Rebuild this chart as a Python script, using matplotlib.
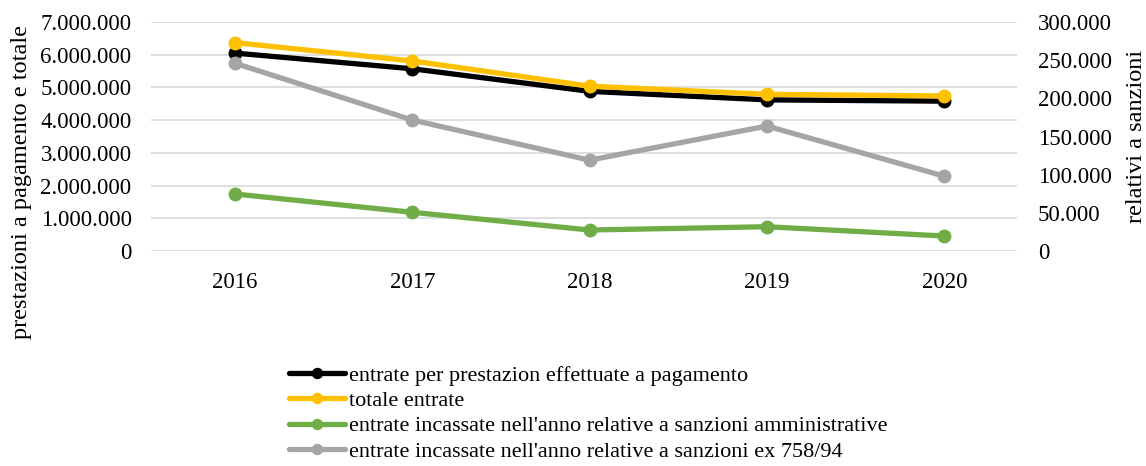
import matplotlib.pyplot as plt
from matplotlib.ticker import FuncFormatter

plt.rcParams['font.family'] = ['Liberation Serif', 'DejaVu Serif']

years = ['2016', '2017', '2018', '2019', '2020']
prestazioni = [6050000, 5570000, 4880000, 4620000, 4580000]
totale = [6370000, 5810000, 5040000, 4790000, 4740000]
sanz_amm = [74700, 50700, 27500, 31800, 19600]
sanz_758 = [246000, 171600, 119000, 163700, 98000]

names = ["entrate per prestazion effettuate a pagamento",
         "totale entrate",
         "entrate incassate nell'anno relative a sanzioni amministrative",
         "entrate incassate nell'anno relative a sanzioni ex 758/94"]


def dotted(v, pos):
    return f"{int(round(v)):,}".replace(",", ".")


fig = plt.figure(figsize=(11.46, 4.66), dpi=100)
ax = fig.add_axes([151 / 1146, 1 - 251 / 466, (1017 - 151) / 1146, 229 / 466])
ax2 = ax.twinx()

x = range(len(years))
style = dict(lw=3.8, marker='o', markersize=9, solid_capstyle='round')
l1, = ax.plot(x, prestazioni, color='black', zorder=3, **style)
l2, = ax.plot(x, totale, color='#ffc000', zorder=4, **style)
l3, = ax2.plot(x, sanz_amm, color='#70ad47', zorder=3, **style)
l4, = ax2.plot(x, sanz_758, color='#a5a5a5', zorder=4, **style)

ax.set_ylim(0, 7000000)
ax.set_yticks(range(0, 7000001, 1000000))
ax2.set_ylim(0, 300000)
ax2.set_yticks(range(0, 300001, 50000))
ax.yaxis.set_major_formatter(FuncFormatter(dotted))
ax2.yaxis.set_major_formatter(FuncFormatter(dotted))
ax.set_xlim(-0.473, 4.41)
ax.set_xticks(list(x))
ax.set_xticklabels(years)

ax.grid(axis='y', color='#d9d9d9', lw=1.2, zorder=0)
ax.set_axisbelow(True)
for a in (ax, ax2):
    for s in a.spines.values():
        s.set_visible(False)
    a.tick_params(length=0, labelsize=16.5)
ax.tick_params(axis='y', pad=14)
ax.tick_params(axis='x', pad=15)
ax2.tick_params(axis='y', pad=15)

ax.set_ylabel("prestazioni a pagamento e totale", fontsize=17.5)
ax.yaxis.set_label_coords((32 - 151) / 866, 0.30)
ax2.set_ylabel("relativi a sanzioni", fontsize=17.5)
ax2.yaxis.set_label_coords((1126 - 151) / 866, 0.50)

fig.legend([l1, l2, l3, l4], names, loc='upper left',
           bbox_to_anchor=(289 / 1146, 1 - 365 / 466), frameon=False,
           fontsize=16, handlelength=2.5, handletextpad=0.2,
           labelspacing=0.22, borderpad=0, borderaxespad=0, markerscale=0.8)

fig.savefig('out.png', dpi=100)
